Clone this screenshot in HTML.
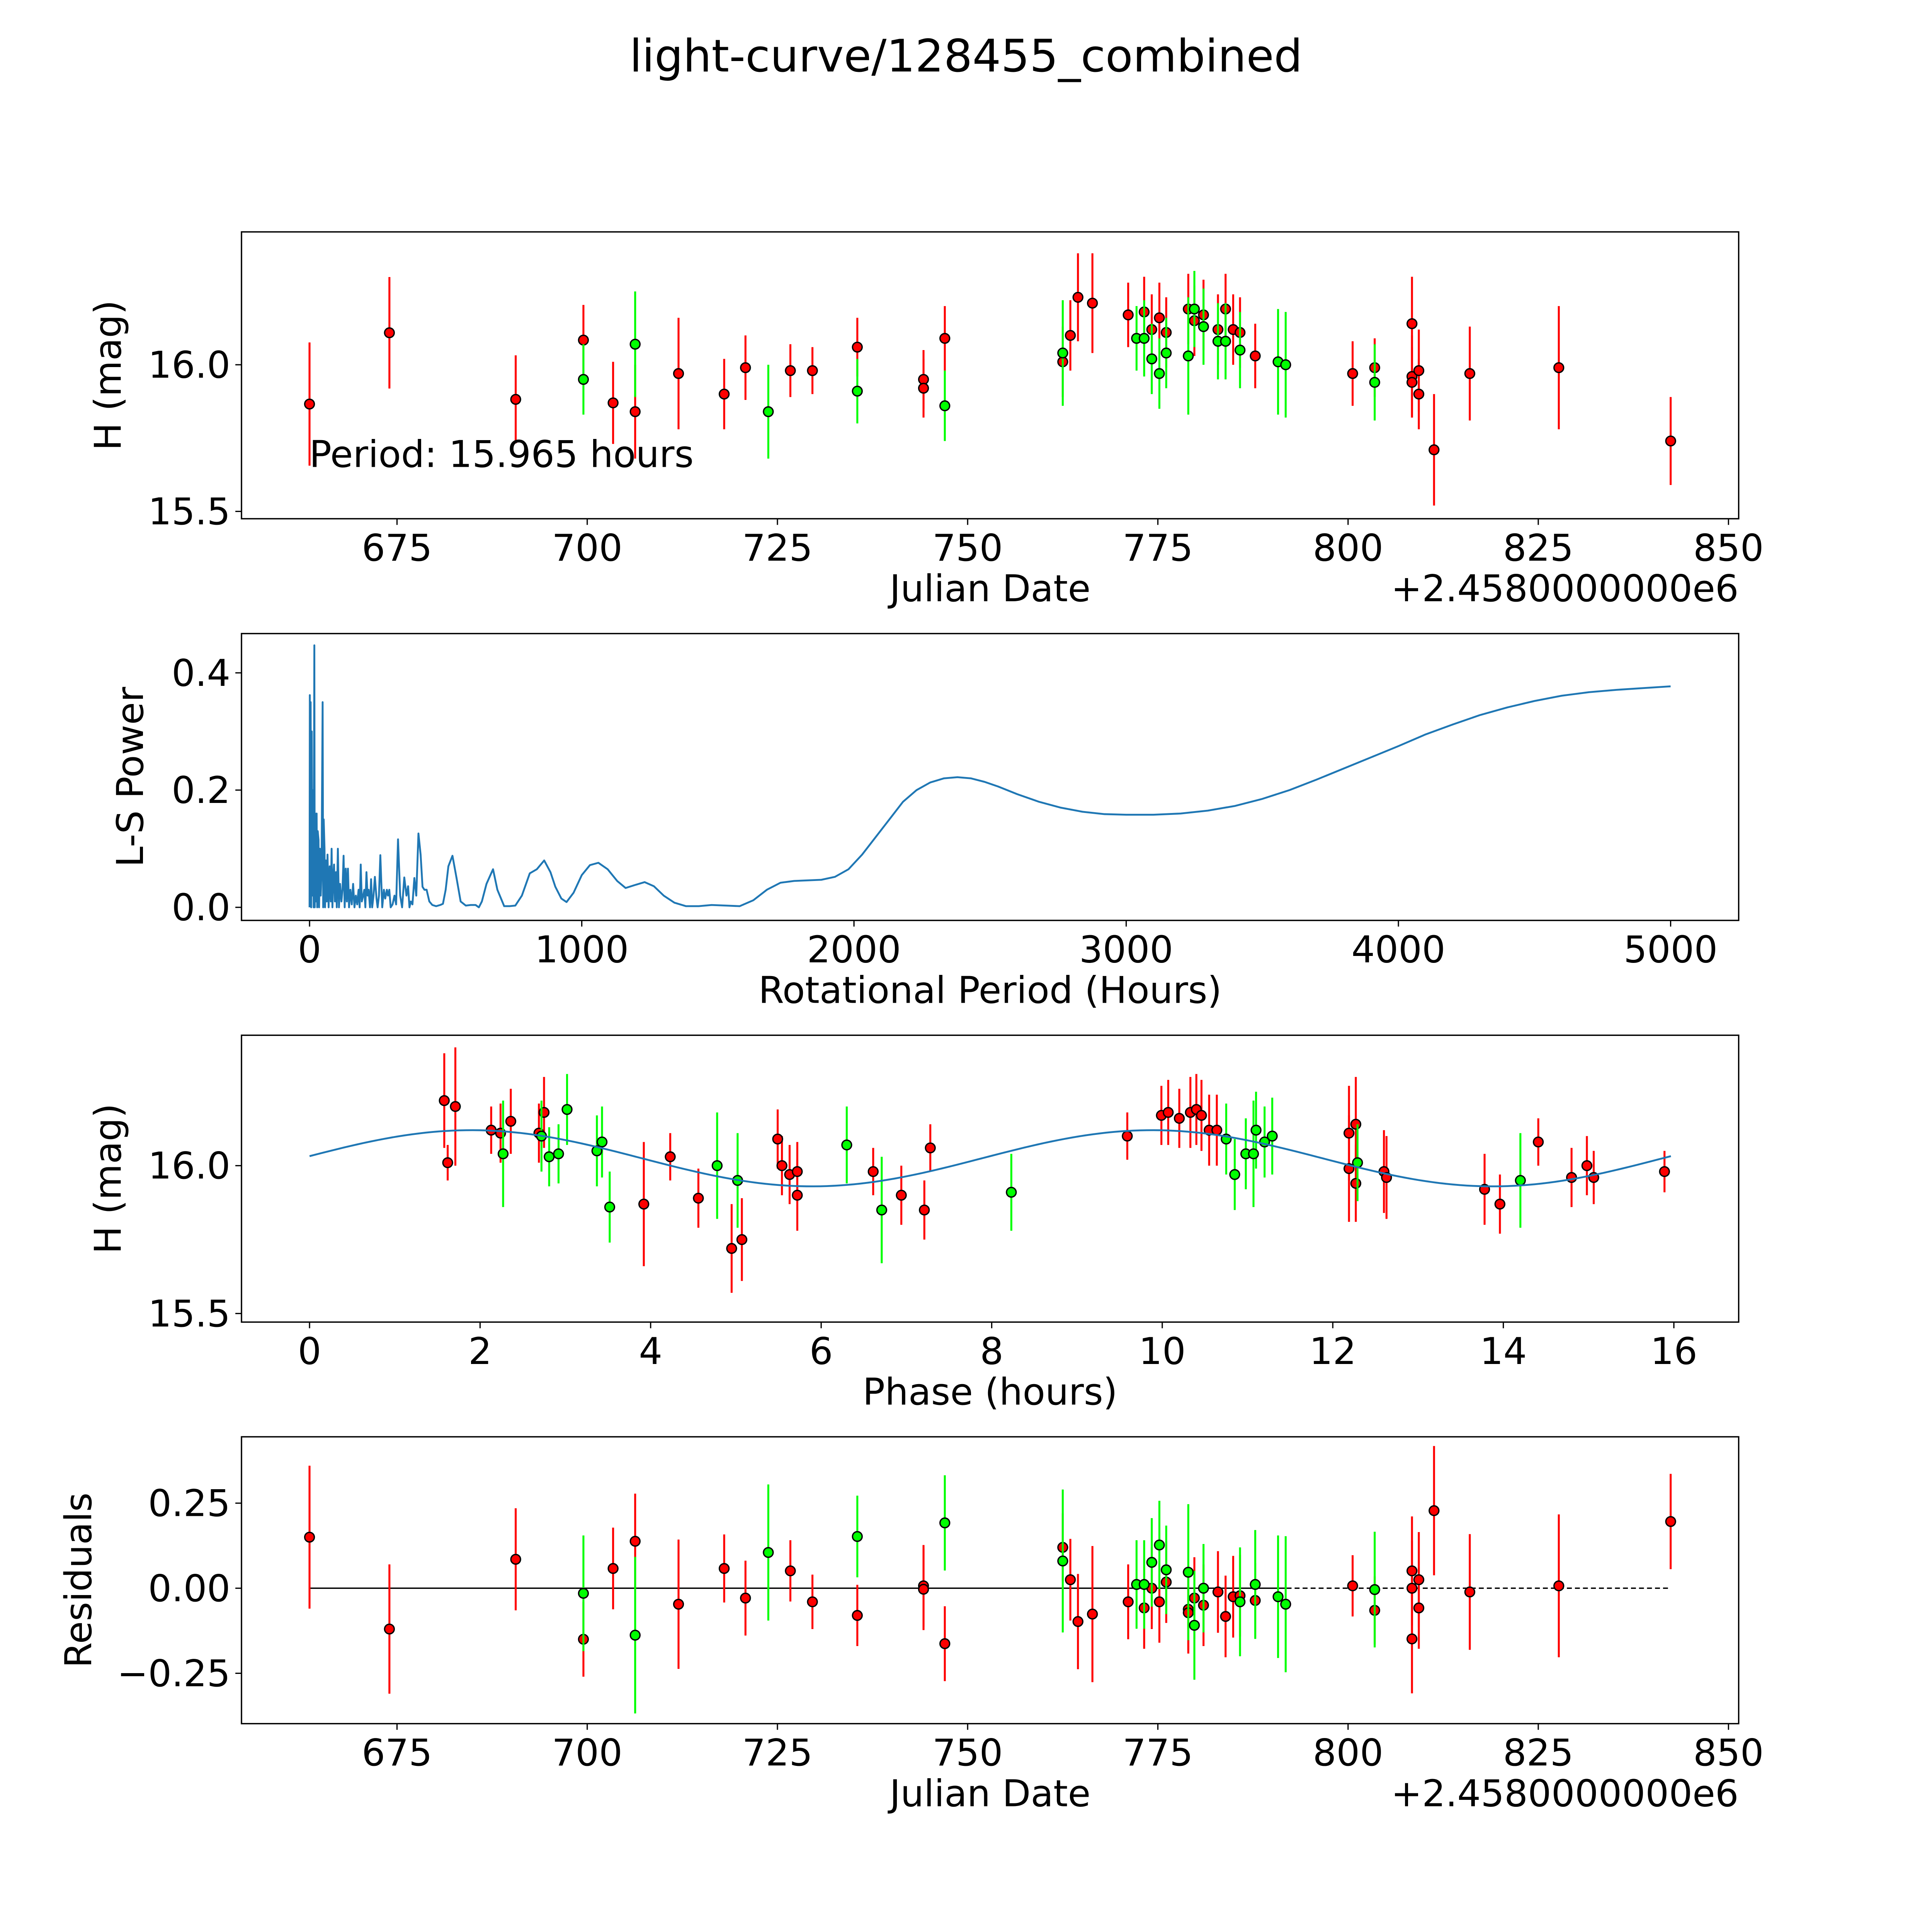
<!DOCTYPE html>
<html><head><meta charset="utf-8">
<style>
html,body{margin:0;padding:0;background:#fff;overflow:hidden;width:100%;height:100%;}
svg{display:block;width:100vw;height:100vh;font-family:"DejaVu Sans","Liberation Sans",sans-serif;}
</style></head>
<body>
<svg id="fig" xmlns="http://www.w3.org/2000/svg" viewBox="0 0 1568 1568" preserveAspectRatio="none">
<rect width="1568" height="1568" fill="#fff"/>
<text x="784" y="58" font-size="36.5" text-anchor="middle">light-curve/128455_combined</text>
</svg>
<script>
// ---- Panel 1: light curve (Julian Date offset from 2458000) ----
const lcRedDate=[663.5,674.0,690.6,699.5,703.4,706.3,712.0,718.0,720.8,726.7,729.6,735.5,744.2,744.2,747.0,762.5,763.5,764.5,766.4,771.1,773.2,774.2,775.2,776.1,779.0,779.8,781.0,782.9,783.9,784.9,785.8,787.8,800.6,803.5,808.4,808.4,808.4,809.3,809.3,811.3,816.0,827.7,842.4];
const lcRedMag=[15.866,16.109,15.882,16.084,15.87,15.84,15.97,15.90,15.99,15.98,15.98,16.06,15.95,15.92,16.09,16.01,16.10,16.23,16.21,16.17,16.18,16.12,16.16,16.11,16.19,16.15,16.17,16.12,16.19,16.12,16.11,16.03,15.97,15.99,16.14,15.96,15.94,15.98,15.90,15.71,15.97,15.99,15.74];
const lcRedErr=[0.21,0.19,0.15,0.12,0.14,0.16,0.19,0.12,0.11,0.09,0.08,0.10,0.10,0.10,0.11,0.12,0.12,0.15,0.17,0.11,0.12,0.12,0.12,0.12,0.12,0.12,0.12,0.12,0.12,0.12,0.12,0.11,0.11,0.10,0.16,0.14,0.12,0.14,0.12,0.19,0.16,0.21,0.15];
const lcGreenDate=[699.5,706.3,723.8,735.5,747.0,762.5,772.2,773.2,774.2,775.2,776.1,779.0,779.8,781.0,782.9,783.9,785.8,790.8,791.8,803.5];
const lcGreenMag=[15.95,16.07,15.84,15.91,15.86,16.04,16.09,16.09,16.02,15.97,16.04,16.03,16.19,16.13,16.08,16.08,16.05,16.01,16.00,15.94];
const lcGreenErr=[0.12,0.18,0.16,0.11,0.12,0.18,0.11,0.13,0.12,0.12,0.12,0.20,0.13,0.13,0.13,0.13,0.13,0.18,0.18,0.13];
const dateTicks=[675,700,725,750,775,800,825,850];
const magTicks=[15.5,16.0];
const magTickLabels=["15.5","16.0"];
// ---- Panel 2: Lomb-Scargle periodogram ----
const lsPeriod=[
0,1,2,4,6,8,10,12,15,17.6, 19,21,24,26,28,30,33,35,38,41, 44,48,50,52,55,57,60,63,66,70, 74,78,81,84,87,90,93,97,100,104,
108,112,117,121,125,129,133,137,141,145, 150,155,160,165,170,175,180,184,188,192, 197,201,205,209,213,217,222,226,230,235, 240,246,250,255,260,267,273,278,284,288,
293,298,305,312,318,325,333,340,348,356, 362,367,372,378,385,392,400,408,415,422, 430,440,451,465,480,490,500,510,525,540, 555,574,592,610,622,633,650,674,690,715,
735,756,780,809,835,862,885,903,925,944, 970,1000,1030,1061,1095,1130,1161,1195,1231,1265, 1301,1340,1383,1430,1477,1530,1580,1630,1680,1730,
1780,1830,1880,1930,1980,2030,2080,2130,2180,2230, 2280,2330,2380,2430,2480,2530,2600,2680,2760,2840, 2920,3000,3100,3200,3300,3400,3500,3600,3700,3800, 3900,4000,4100,4200,4300,4400,4500,4600,4700,4800,
4900,5000];
const lsPower=[
0,0.362,0.05,0.35,0,0.30,0.02,0.20,0,0.447, 0,0.16,0.01,0.16,0,0.13,0.115,0,0.10,0.02, 0.06,0.35,0,0.15,0.10,0,0.08,0.01,0.09,0, 0.07,0.01,0.10,0,0.05,0.073,0.01,0.06,0,0.10,
0,0.04,0.01,0.03,0.088,0,0.066,0.01,0.066,0, 0.03,0.005,0.04,0,0.02,0.005,0.03,0,0.073,0.01, 0.02,0.03,0,0.06,0.02,0.03,0,0.048,0,0.02, 0.052,0.015,0,0.02,0.089,0,0.03,0.015,0.03,0.02,
0.03,0,0.005,0.02,0.005,0.116,0.02,0.0,0.051,0.02, 0.036,0.0,0.01,0.005,0.05,0.02,0.126,0.09,0.035,0.03, 0.03,0.01,0.004,0.002,0.004,0.006,0.03,0.07,0.088,0.05, 0.01,0.003,0.004,0.004,0.0,0.01,0.04,0.065,0.03,0.002,
0.002,0.003,0.02,0.058,0.065,0.08,0.06,0.035,0.015,0.009, 0.025,0.055,0.072,0.076,0.065,0.045,0.033,0.038,0.043,0.036, 0.02,0.008,0.002,0.002,0.004,0.003,0.002,0.012,0.03,0.042,
0.045,0.046,0.047,0.052,0.065,0.09,0.12,0.15,0.18,0.20, 0.213,0.22,0.222,0.22,0.214,0.206,0.193,0.18,0.17,0.163, 0.159,0.158,0.158,0.16,0.165,0.173,0.185,0.2,0.218,0.237, 0.256,0.275,0.295,0.312,0.328,0.341,0.352,0.361,0.367,0.371,
0.374,0.377];
const lsPeriodTicks=[0,1000,2000,3000,4000,5000];
const lsPowerTicks=[0.0,0.2,0.4];
const lsPowerTickLabels=["0.0","0.2","0.4"];
// ---- Panel 3: phased light curve ----
const phRedPhase=[1.58,1.62,1.71,2.13,2.24,2.36,2.69,2.75,3.92,4.23,4.56,4.95,5.07,5.49,5.54,5.63,5.72,5.72,6.61,6.94,7.21,7.28,9.59,9.99,10.07,10.2,10.33,10.4,10.46,10.55,10.64,12.19,12.19,12.27,12.27,12.6,12.63,13.78,13.96,14.41,14.8,14.98,15.06,15.89];
const phRedMag=[16.22,16.01,16.20,16.12,16.11,16.15,16.11,16.18,15.87,16.03,15.89,15.72,15.75,16.09,16.0,15.97,15.98,15.90,15.98,15.90,15.85,16.06,16.10,16.17,16.18,16.16,16.18,16.19,16.17,16.12,16.12,16.11,15.99,16.14,15.94,15.98,15.96,15.92,15.87,16.08,15.96,16.0,15.96,15.98];
const phRedErr=[0.16,0.06,0.2,0.08,0.1,0.11,0.1,0.12,0.21,0.08,0.1,0.15,0.14,0.1,0.1,0.1,0.1,0.12,0.08,0.1,0.1,0.08,0.08,0.1,0.11,0.1,0.12,0.12,0.12,0.12,0.12,0.16,0.18,0.16,0.13,0.14,0.14,0.12,0.1,0.08,0.1,0.1,0.09,0.07];
const phGreenPhase=[2.27,2.72,2.81,2.92,3.02,3.37,3.43,3.52,4.78,5.02,6.30,6.71,8.23,10.75,10.85,10.98,11.07,11.1,11.2,11.29,12.29,14.2];
const phGreenMag=[16.04,16.10,16.03,16.04,16.19,16.05,16.08,15.86,16.0,15.95,16.07,15.85,15.91,16.09,15.97,16.04,16.04,16.12,16.08,16.10,16.01,15.95];
const phGreenErr=[0.18,0.12,0.1,0.1,0.12,0.12,0.12,0.12,0.18,0.16,0.13,0.18,0.13,0.12,0.12,0.12,0.18,0.13,0.12,0.13,0.13,0.16];
const phaseTicks=[0,2,4,6,8,10,12,14,16];
const modelParams=[16.025,0.095,1.9,15.965]; // mean, amplitude, phase of max, period (two peaks per period)
// ---- Panel 4: residuals ----
const resRedDate=[663.5,674.0,690.6,699.5,703.4,706.3,712.0,718.0,720.8,726.7,729.6,735.5,744.2,744.2,747.0,762.5,763.5,764.5,766.4,771.1,773.2,774.2,775.2,776.1,779.0,779.0,779.8,781.0,782.9,783.9,784.9,785.8,787.8,800.6,803.5,808.4,808.4,808.4,809.3,809.3,811.3,816.0,827.7,842.4];
const resRedVal=[0.15,-0.12,0.085,-0.15,0.058,0.138,-0.047,0.058,-0.029,0.051,-0.04,-0.08,0.007,-0.003,-0.163,0.12,0.025,-0.098,-0.076,-0.04,-0.058,0.0,-0.04,0.018,-0.062,-0.072,-0.029,-0.05,-0.011,-0.083,-0.025,-0.022,-0.036,0.007,-0.065,0.051,0.0,-0.149,0.025,-0.058,0.228,-0.011,0.007,0.196];
const resRedErr=[0.21,0.19,0.15,0.11,0.12,0.14,0.19,0.1,0.11,0.09,0.08,0.09,0.12,0.12,0.11,0.1,0.12,0.14,0.2,0.11,0.12,0.12,0.12,0.12,0.12,0.12,0.12,0.12,0.12,0.12,0.12,0.12,0.11,0.09,0.1,0.16,0.14,0.16,0.14,0.12,0.19,0.17,0.21,0.14];
const resGreenDate=[699.5,706.3,723.8,735.5,747.0,762.5,772.2,773.2,774.2,775.2,776.1,779.0,779.8,781.0,785.8,787.8,790.8,791.8,803.5];
const resGreenVal=[-0.015,-0.138,0.105,0.152,0.192,0.08,0.011,0.011,0.076,0.127,0.054,0.047,-0.109,0.0,-0.04,0.011,-0.025,-0.047,-0.004];
const resGreenErr=[0.17,0.23,0.2,0.12,0.14,0.21,0.13,0.13,0.13,0.13,0.13,0.2,0.16,0.13,0.16,0.16,0.18,0.2,0.17];
const resTicks=[-0.25,0.0,0.25];
const resTickLabels=["\u22120.25","0.00","0.25"];

const NS="http://www.w3.org/2000/svg";
const svg=document.getElementById('fig');
const L=196,R=1411.1,H=232.8,FS=30;
const tops=[188.2,514.2,840.2,1166.1];
function mk(tag,attrs,parent){const e=document.createElementNS(NS,tag);for(const k in attrs)e.setAttribute(k,attrs[k]);(parent||svg).appendChild(e);return e;}
function lin(d0,d1,r0,r1){return v=>r0+(v-d0)/(d1-d0)*(r1-r0);}

function axesFrame(i,name,xs,ys,xt,xtl,yt,ytl,xlabel,ylabel,ylx){
  const top=tops[i],bot=top+H;
  const g=mk('g',{});
  
  
  xt.forEach((v,k)=>{
    const x=xs(v);
    const t=mk('line',{x1:x,x2:x,y1:bot,y2:bot+5,stroke:'#000','stroke-width':1},g);
    
    
    const tx=mk('text',{x:x,y:bot+34,'font-size':FS,'text-anchor':'middle'},g);
    
    
    tx.textContent=xtl[k];
  });
  yt.forEach((v,k)=>{
    const y=ys(v);
    const t=mk('line',{x1:L-5,x2:L,y1:y,y2:y,stroke:'#000','stroke-width':1},g);
    
    
    const tx=mk('text',{x:L-9,y:y+10.5,'font-size':FS,'text-anchor':'end'},g);
    
    
    tx.textContent=ytl[k];
  });
  const xl=mk('text',{x:(L+R)/2,y:bot+67,'font-size':FS,'text-anchor':'middle'},g);
  
  
  xl.textContent=xlabel;
  const cy=top+H/2;
  const yl=mk('text',{x:ylx,y:cy,'font-size':FS,'text-anchor':'middle',transform:`rotate(-90 ${ylx} ${cy})`},g);
  
  
  yl.textContent=ylabel;
  return g;
}
function frameRect(i,name){
  const r=mk('rect',{x:L,y:tops[i],width:R-L,height:H,fill:'none',stroke:'#000','stroke-width':1.1});
  
  
}
function clip(i,id){
  const d=mk('defs',{});const c=mk('clipPath',{id:id},d);
  mk('rect',{x:L,y:tops[i],width:R-L,height:H},c);
}
function errPoints(name,xs,ys,X,Y,E,color){
  const g=mk('g',{});
  
  
  X.forEach((v,k)=>{
    const x=xs(v);
    const l=mk('line',{x1:x,x2:x,y1:ys(Y[k]-E[k]),y2:ys(Y[k]+E[k]),stroke:color,'stroke-width':1.6},g);
    
    
  });
  X.forEach((v,k)=>{
    const c=mk('circle',{cx:xs(v),cy:ys(Y[k]),r:3.9,fill:color,stroke:'#000','stroke-width':1.1},g);
    
    
  });
}
const dateLabels=dateTicks.map(String);

// Panel 1
{
  const xs=lin(654.56,851.34,L,R), ys=lin(15.475,16.453,tops[0]+H,tops[0]);
  axesFrame(0,'light-curve',xs,ys,dateTicks,dateLabels,magTicks,magTickLabels,'Julian Date','H (mag)',98);
  errPoints('light-curve-red-series',xs,ys,lcRedDate,lcRedMag,lcRedErr,'#ff0000');
  errPoints('light-curve-green-series',xs,ys,lcGreenDate,lcGreenMag,lcGreenErr,'#00ff00');
  frameRect(0,'light-curve');
  const off=mk('text',{x:R,y:tops[0]+H+67,'font-size':FS,'text-anchor':'end'});
  
  
  off.textContent='+2.4580000000e6';
  const pt=mk('text',{x:251,y:379,'font-size':FS});
  
  
  pt.textContent='Period: 15.965 hours';
}
// Panel 2
{
  const xs=lin(-250,5250,L,R), ys=lin(-0.0223,0.467,tops[1]+H,tops[1]);
  axesFrame(1,'periodogram',xs,ys,lsPeriodTicks,lsPeriodTicks.map(String),lsPowerTicks,lsPowerTickLabels,'Rotational Period (Hours)','L-S Power',116);
  clip(1,'c2');
  const n=Math.min(lsPeriod.length,lsPower.length);
  let d='';
  for(let k=0;k<n;k++){d+=(k?'L':'M')+xs(lsPeriod[k]).toFixed(2)+' '+ys(lsPower[k]).toFixed(2)+' ';}
  const pl=mk('path',{d:d,fill:'none',stroke:'#1f77b4','stroke-width':1.5,'stroke-linejoin':'round','clip-path':'url(#c2)'});
  
  
  frameRect(1,'periodogram');
}
// Panel 3
{
  const xs=lin(-0.798,16.76,L,R), ys=lin(15.471,16.441,tops[2]+H,tops[2]);
  axesFrame(2,'phase-curve',xs,ys,phaseTicks,phaseTicks.map(String),magTicks,magTickLabels,'Phase (hours)','H (mag)',98);
  const [m,a,p0,P]=modelParams;
  let d='';
  for(let k=0;k<=200;k++){const ph=P*k/200;const v=m+a*Math.cos(4*Math.PI*(ph-p0)/P);d+=(k?'L':'M')+xs(ph).toFixed(2)+' '+ys(v).toFixed(2)+' ';}
  errPoints('phase-red-series',xs,ys,phRedPhase,phRedMag,phRedErr,'#ff0000');
  errPoints('phase-green-series',xs,ys,phGreenPhase,phGreenMag,phGreenErr,'#00ff00');
  const ml=mk('path',{d:d,fill:'none',stroke:'#1f77b4','stroke-width':1.5});
  
  
  frameRect(2,'phase-curve');
}
// Panel 4
{
  const xs=lin(654.56,851.34,L,R), ys=lin(-0.398,0.445,tops[3]+H,tops[3]);
  axesFrame(3,'residuals',xs,ys,dateTicks,dateLabels,resTicks,resTickLabels,'Julian Date','Residuals',74);
  const dl=mk('line',{x1:xs(663.5),x2:xs(842.4),y1:ys(0),y2:ys(0),stroke:'#000','stroke-width':1.1,'stroke-dasharray':'4 2.5'});
  
  
  const sl=mk('line',{x1:xs(663.5),x2:xs(791.8),y1:ys(0),y2:ys(0),stroke:'#000','stroke-width':1.1});
  
  
  errPoints('residuals-red-series',xs,ys,resRedDate,resRedVal,resRedErr,'#ff0000');
  errPoints('residuals-green-series',xs,ys,resGreenDate,resGreenVal,resGreenErr,'#00ff00');
  frameRect(3,'residuals');
  const off=mk('text',{x:R,y:tops[3]+H+67,'font-size':FS,'text-anchor':'end'});
  
  
  off.textContent='+2.4580000000e6';
}
</script>
</body></html>
